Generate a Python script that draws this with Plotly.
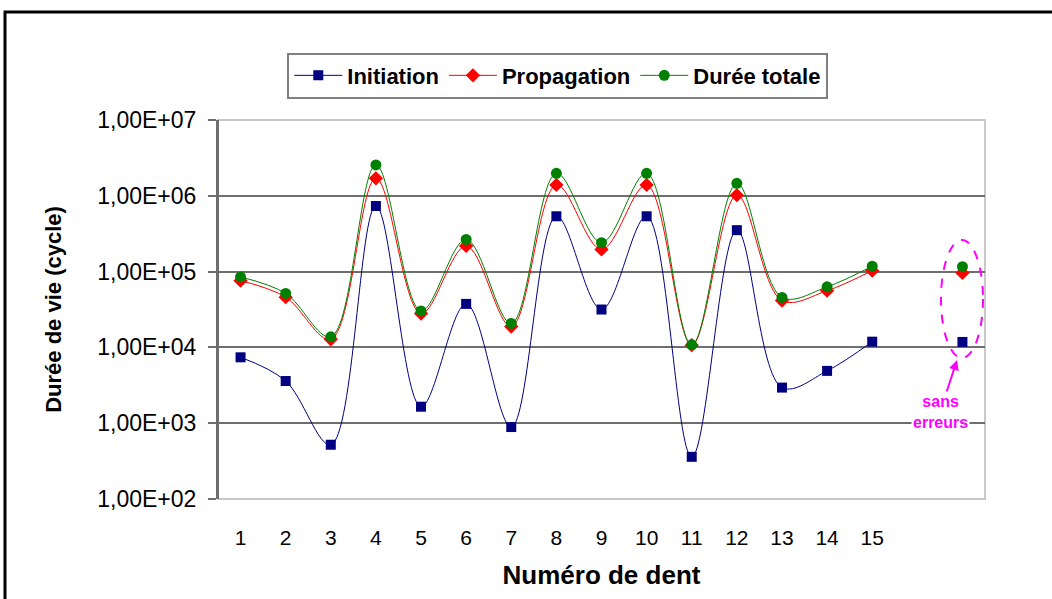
import plotly.graph_objects as go

# Tooth numbers (16 left empty, 17 = error-free reference run)
dents = [1, 2, 3, 4, 5, 6, 7, 8, 9, 10, 11, 12, 13, 14, 15, 16, 17]
tick_vals = list(range(1, 16))
tick_text = [str(v) for v in tick_vals]

# Life in cycles
initiation = [7400, 3600, 520, 733000, 1650, 37500, 890, 537000, 31600, 537000,
              360, 352000, 2950, 4900, 11900, None, 11800]
propagation = [76000, 46000, 12800, 1700000, 28000, 218000, 18800, 1390000, 196000,
               1390000, 10700, 1020000, 41500, 56000, 103000, None, 96000]
duree_totale = [85000, 51500, 13800, 2550000, 30300, 266000, 20700, 1980000, 241000,
                1980000, 10800, 1460000, 45700, 63000, 118000, None, 116000]

y_tickvals = [1e2, 1e3, 1e4, 1e5, 1e6, 1e7]
y_ticktext = ["1,00E+02", "1,00E+03", "1,00E+04", "1,00E+05", "1,00E+06", "1,00E+07"]

FONT = "Arial, Liberation Sans, sans-serif"

fig = go.Figure()
series = [
    ("Initiation", initiation, "#000080", "square", 10),
    ("Propagation", propagation, "#ff0000", "diamond", 11),
    ("Durée totale", duree_totale, "#008000", "circle", 11),
]
for name, vals, color, symbol, size in series:
    fig.add_trace(go.Scatter(
        x=dents, y=vals, name=name, mode="lines+markers",
        line=dict(color=color, width=1, shape="spline", smoothing=1),
        marker=dict(symbol=symbol, size=size, color=color, line=dict(width=0)),
        connectgaps=False,
    ))

fig.update_layout(
    width=1052, height=599,
    margin=dict(l=218, r=67, t=120, b=100),
    paper_bgcolor="white", plot_bgcolor="white",
    font=dict(family=FONT, color="black"),
    showlegend=True,
    legend=dict(
        orientation="h", x=0.443, xanchor="center", y=1.178, yanchor="top",
        bgcolor="white", bordercolor="#808080", borderwidth=2,
        font=dict(family=FONT, size=22, weight="bold", color="black"),
        itemwidth=48, tracegroupgap=0,
    ),
    xaxis=dict(
        range=[0.5, 17.5], tickmode="array", tickvals=tick_vals, ticktext=tick_text,
        showgrid=False, zeroline=False, showline=False, ticks="",
        tickfont=dict(size=21, color="black"), ticklabelstandoff=24,
        title=dict(text="Numéro de dent", font=dict(size=26, weight="bold"), standoff=17),
    ),
    yaxis=dict(
        type="log", range=[2, 7], tickmode="array", tickvals=y_tickvals, ticktext=y_ticktext,
        showgrid=True, gridcolor="#6e6e6e", gridwidth=2,
        showline=True, linecolor="#6e6e6e", linewidth=2,
        ticks="outside", ticklen=8, tickcolor="#6e6e6e", tickwidth=2,
        tickfont=dict(size=23, color="black"), ticklabelstandoff=7,
        title=dict(text="Durée de vie (cycle)", font=dict(size=22, weight="bold"), standoff=30),
        zeroline=False,
    ),
)

# Plot-area frame (light) and outer black frame
fig.add_shape(type="rect", xref="paper", yref="paper", x0=0, x1=1, y0=0, y1=1,
              line=dict(color="#c8c8c8", width=2), layer="between")
fig.add_shape(type="line", xref="paper", yref="paper", x0=0, x1=0, y0=0, y1=1,
              line=dict(color="#6e6e6e", width=2), layer="above")
fig.add_shape(type="rect", xref="paper", yref="paper", x0=-0.2777, x1=1.12, y0=-0.32, y1=1.285,
              line=dict(color="black", width=3), layer="above")

# Dashed ellipse around the error-free reference point
fig.add_shape(type="circle", xref="paper", yref="paper", x0=0.9426, x1=0.9974, y0=0.372, y1=0.6834,
              line=dict(color="#ff00ff", width=2, dash="dash"), layer="above")

fig.add_annotation(
    x=16.88, y=3.834, xref="x", yref="y",
    text="sans<br>erreurs", showarrow=True, arrowhead=2, arrowsize=1, arrowwidth=2,
    arrowcolor="#ff00ff", ax=-17, ay=52, bgcolor="white",
    font=dict(family=FONT, size=16, weight="bold", color="#ff00ff"),
)

fig.write_html("out.html")
